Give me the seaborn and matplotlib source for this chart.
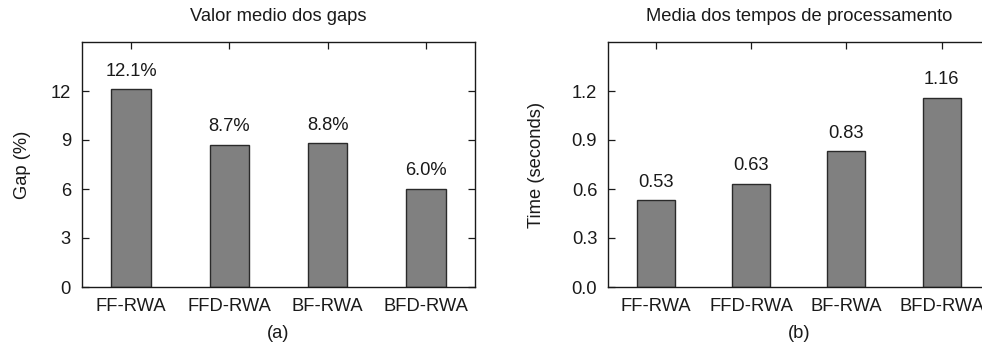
import matplotlib
matplotlib.use("Agg")
import matplotlib.pyplot as plt
import seaborn as sns
import pandas as pd

categories = ["FF-RWA", "FFD-RWA", "BF-RWA", "BFD-RWA"]
gap_values = [12.1, 8.7, 8.8, 6.0]
gap_labels = ["12.1%", "8.7%", "8.8%", "6.0%"]
time_values = [0.53, 0.63, 0.83, 1.16]
time_labels = ["0.53", "0.63", "0.83", "1.16"]
gap_ticks = [0, 3, 6, 9, 12]
time_ticks = [0.0, 0.3, 0.6, 0.9, 1.2]

sns.set_theme(style="ticks")
plt.rcParams["font.family"] = ["Liberation Sans", "DejaVu Sans"]
FS = 13.2
FL = 13.2

fig = plt.figure(figsize=(9.82, 3.47), dpi=100)
W, H = 982, 347
axL = fig.add_axes([82 / W, (H - 287) / H, 393 / W, 245 / H])
axR = fig.add_axes([608.3 / W, (H - 287) / H, 381 / W, 245 / H])

def draw(ax, vals, labels, ticks, ymax, title, ylabel, sub, fmt_ticks, ylpad):
    df = pd.DataFrame({"cat": categories, "val": vals})
    sns.barplot(data=df, x="cat", y="val", ax=ax, color="#808080", saturation=1,
                width=0.4, edgecolor="#2a2a2a", linewidth=1.0)
    ax.set_xlim(-0.5, 3.5)
    ax.set_ylim(0, ymax)
    ax.set_yticks(ticks)
    ax.set_yticklabels(fmt_ticks)
    for i, (v, lab) in enumerate(zip(vals, labels)):
        ax.annotate(lab, (i, v), xytext=(0, 7), textcoords="offset points",
                    ha="center", va="bottom", fontsize=FS, color="#1a1a1a")
    ax.set_title(title, fontsize=FL, pad=15, color="#1a1a1a")
    ax.set_ylabel(ylabel, fontsize=FL, labelpad=ylpad, color="#1a1a1a")
    ax.set_xlabel(sub, fontsize=FL, labelpad=7, color="#1a1a1a")
    ax.tick_params(axis="both", direction="in", length=5, width=0.9,
                   top=True, right=True, labelsize=FS, colors="#1a1a1a")
    ax.tick_params(axis="y", pad=8)
    ax.tick_params(axis="x", pad=8)
    for s in ax.spines.values():
        s.set_visible(True)
        s.set_color("#1a1a1a")
        s.set_linewidth(1.0)

draw(axL, gap_values, gap_labels, gap_ticks, 15, "Valor medio dos gaps", "Gap (%)", "(a)",
     [str(t) for t in gap_ticks], 14)
draw(axR, time_values, time_labels, time_ticks, 1.5, "Media dos tempos de processamento",
     "Time (seconds)", "(b)", [f"{t:.1f}" for t in time_ticks], 19)

fig.savefig("out.png", dpi=100)
